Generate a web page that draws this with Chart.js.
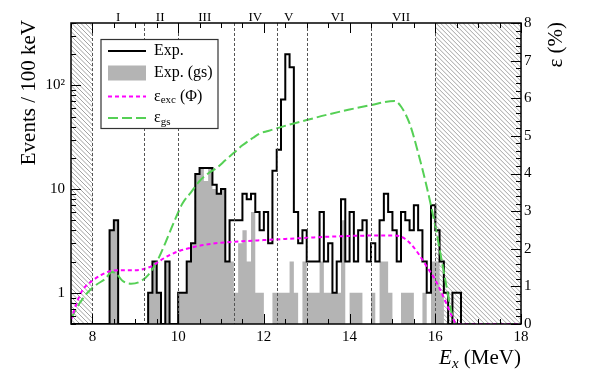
<!DOCTYPE html>
<html>
<head>
<meta charset="utf-8">
<script src="https://cdn.jsdelivr.net/npm/chart.js@4.4.1/dist/chart.umd.min.js"></script>
<style>
  html, body { margin: 0; padding: 0; background: #fff; }
</style>
</head>
<body>
<canvas id="chart" width="592" height="383"></canvas>
<script>
// ======================================================
// DATA
// ======================================================
const binStart = 7.5;   // MeV, low edge of first 100 keV bin
const binWidth = 0.1;

// Exp. (all events), 7.5 ... 16.6 MeV
const expCounts = [
  0, 0, 0, 0, 0, 0, 0, 0, 0, 0,
  4, 5,
  0, 0, 0, 0, 0, 0, 0,
  1, 2, 1, 0, 2, 0,
  0, 1, 1, 2, 3, 14, 16, 16, 16, 11,
  9, 10, 2, 5, 5, 5, 9, 8, 9, 6,
  4, 6, 3, 15, 24, 73, 200, 150, 6, 3,
  4, 2, 2, 2, 6, 2, 3, 1, 2, 8,
  2, 6, 2, 4, 5, 2, 3, 2, 5, 9,
  6, 4, 2, 6, 5, 4, 7, 4, 2, 1,
  7, 4, 2, 1, 0, 1
];

// Exp. (gs)
const gsCounts = [
  0, 0, 0, 0, 0, 0, 0, 0, 0, 0,
  4, 5,
  0, 0, 0, 0, 0, 0, 0,
  1, 2, 1, 0, 2, 0,
  0, 1, 1, 2, 3, 14, 16, 12, 16, 10,
  9, 10, 2, 2, 1, 3, 4, 2, 6, 1,
  1, 0, 0, 1, 1, 1, 1, 2, 1, 0,
  2, 1, 1, 1, 2, 1, 1, 1, 1, 5,
  0, 1, 1, 1, 0, 0, 1, 0, 2, 2,
  1, 0, 0, 1, 1, 1, 0, 0, 1, 0,
  2, 2, 1, 0, 0, 0
];

// efficiencies (%)
const effExcE = [7.5, 7.6, 7.7, 7.8, 8.0, 8.2, 8.4, 8.6, 9.0, 9.2, 9.4, 9.6, 9.8, 10.0, 10.3, 10.6,
  11.0, 11.5, 12.0, 12.5, 13.0, 13.5, 14.0, 14.5, 15.0, 15.15, 15.3, 15.45, 15.6, 15.8,
  16.0, 16.2, 16.4, 16.5, 17.0, 18.0];
const effExc = [0.1, 0.45, 0.75, 0.95, 1.15, 1.3, 1.4, 1.43, 1.43, 1.46, 1.55, 1.7, 1.83, 1.93, 2.03, 2.1,
  2.16, 2.2, 2.23, 2.26, 2.29, 2.32, 2.34, 2.35, 2.35, 2.34, 2.26, 2.1, 1.88, 1.53,
  1.17, 0.7, 0.18, 0, 0, 0];

const effGsE = [7.5, 7.7, 7.9, 8.1, 8.3, 8.45, 8.55, 8.7, 8.9, 9.1, 9.3, 9.5, 9.7, 9.9, 10.1, 10.3,
  10.5, 10.7, 10.9, 11.1, 11.3, 11.5, 11.75, 11.9, 12.1, 12.3, 12.6, 13.0, 13.5, 14.0, 14.5,
  15.05, 15.2, 15.4, 15.6, 15.8, 16.0, 16.2, 16.4, 16.5, 17.0, 18.0];
const effGs = [0.15, 0.55, 0.85, 1.05, 1.2, 1.38, 1.35, 1.15, 1.07, 1.12, 1.3, 1.65, 2.15, 2.7, 3.2, 3.5,
  3.8, 4.0, 4.15, 4.35, 4.55, 4.75, 4.95, 5.06, 5.13, 5.2, 5.3, 5.42, 5.57, 5.7, 5.82,
  5.93, 5.78, 5.33, 4.55, 3.65, 2.6, 1.38, 0.22, 0, 0, 0];

// regions
const regionEdges = [8.0, 9.2, 10.0, 11.3, 12.3, 13.0, 14.5, 16.0];
const regionNames = ["I", "II", "III", "IV", "V", "VI", "VII"];
const regionLabelE = [8.6, 9.58, 10.62, 11.8, 12.58, 13.72, 15.2];
const hatchRanges = [[7.5, 8.0], [16.0, 18.0]];

// axes
const xTicks = [8, 10, 12, 14, 16, 18];
const yTicks = [1, 10, 100];
const y2Ticks = [0, 1, 2, 3, 4, 5, 6, 7, 8];
const yMin = 0.5, yMax = 400;

const serif = '"Liberation Serif", "Times New Roman", Times, serif';
const GRAY = "#b4b4b4";
const MAGENTA = "#ff00ff";
const GREEN = "#55d055";


// ======================================================
// HELPERS
// ======================================================
function stepPoints(counts) {
  const pts = counts.map((c, i) => ({ x: binStart + i * binWidth, y: c > 0 ? c : yMin }));
  const hi = binStart + counts.length * binWidth;
  pts.push({ x: hi, y: pts[pts.length - 1].y });
  pts.push({ x: hi, y: yMin });
  return pts;
}

function curvePoints(xs, ys) {
  return xs.map((x, i) => ({ x, y: ys[i] }));
}

// text runs: [{t, size, dy, italic}]
function richWidth(ctx, parts) {
  let w = 0;
  parts.forEach(p => {
    ctx.font = `${p.italic ? "italic " : ""}${p.size}px ${serif}`;
    w += ctx.measureText(p.t).width;
  });
  return w;
}

function drawRich(ctx, parts, x, y) {
  parts.forEach(p => {
    ctx.font = `${p.italic ? "italic " : ""}${p.size}px ${serif}`;
    ctx.fillText(p.t, x, y + (p.dy || 0));
    x += ctx.measureText(p.t).width;
  });
}


// ======================================================
// PLUGIN — HATCH, REGIONS, FRAME, TICKS, LEGEND, TITLES
// ======================================================
const decorPlugin = {
  id: "decor",

  beforeDatasetsDraw(chart) {
    const { ctx, chartArea: a, scales: { x } } = chart;
    const h = a.bottom - a.top;

    hatchRanges.forEach(([lo, hi]) => {
      const x0 = x.getPixelForValue(lo);
      const x1 = x.getPixelForValue(hi);
      ctx.save();
      ctx.beginPath();
      ctx.rect(x0, a.top, x1 - x0, h);
      ctx.clip();
      ctx.strokeStyle = "#8a8a8a";
      ctx.lineWidth = 0.8;
      ctx.beginPath();
      for (let px = x0 - h; px < x1 + 1; px += 4.5) {
        ctx.moveTo(px, a.top);
        ctx.lineTo(px + h, a.bottom);
      }
      ctx.stroke();
      ctx.restore();
    });
  },

  afterDatasetsDraw(chart) {
    const { ctx, chartArea: a, scales: { x, y, y2 } } = chart;
    ctx.save();

    // region borders
    ctx.strokeStyle = "#555";
    ctx.lineWidth = 1;
    ctx.setLineDash([3, 2]);
    ctx.beginPath();
    regionEdges.forEach(e => {
      const px = Math.round(x.getPixelForValue(e)) + 0.5;
      ctx.moveTo(px, a.top);
      ctx.lineTo(px, a.bottom);
    });
    ctx.stroke();
    ctx.setLineDash([]);

    // frame
    ctx.strokeStyle = "#000";
    ctx.lineWidth = 1.5;
    ctx.strokeRect(a.left, a.top, a.right - a.left, a.bottom - a.top);

    // ticks (inside)
    ctx.lineWidth = 1;
    ctx.beginPath();
    for (let i = 0; i <= 21; i++) {
      const v = 7.5 + i * 0.5;
      const px = Math.round(x.getPixelForValue(v)) + 0.5;
      const len = (i % 4 === 1) ? 10 : 5;
      ctx.moveTo(px, a.bottom); ctx.lineTo(px, a.bottom - len);
      ctx.moveTo(px, a.top);    ctx.lineTo(px, a.top + len);
    }
    [0.1, 1, 10, 100].forEach(d => {
      for (let m = 1; m <= 9; m++) {
        const v = d * m;
        if (v < yMin - 1e-9 || v > yMax) continue;
        const py = Math.round(y.getPixelForValue(v)) + 0.5;
        const len = m === 1 ? 10 : 5;
        ctx.moveTo(a.left, py); ctx.lineTo(a.left + len, py);
      }
    });
    for (let i = 0; i <= 40; i++) {
      const py = Math.round(y2.getPixelForValue(i * 0.2)) + 0.5;
      const len = i % 5 === 0 ? 10 : 5;
      ctx.moveTo(a.right, py); ctx.lineTo(a.right - len, py);
    }
    ctx.stroke();

    // region names above the frame
    ctx.fillStyle = "#000";
    ctx.font = `13px ${serif}`;
    ctx.textAlign = "center";
    ctx.textBaseline = "alphabetic";
    regionNames.forEach((n, i) => {
      ctx.fillText(n, x.getPixelForValue(regionLabelE[i]), 20.5);
    });

    // legend
    const bx = 101, by = 39.5, bw = 117, bh = 89;
    ctx.fillStyle = "#fff";
    ctx.fillRect(bx, by, bw, bh);
    ctx.strokeStyle = "#333";
    ctx.lineWidth = 1.2;
    ctx.strokeRect(bx, by, bw, bh);

    const sx0 = 108, sx1 = 146, tx = 154;
    const rows = [51, 73, 96.5, 118];

    ctx.strokeStyle = "#000";
    ctx.lineWidth = 2;
    ctx.beginPath(); ctx.moveTo(sx0, rows[0]); ctx.lineTo(sx1, rows[0]); ctx.stroke();

    ctx.fillStyle = GRAY;
    ctx.fillRect(sx0, rows[1] - 7.5, sx1 - sx0, 15);

    ctx.strokeStyle = MAGENTA;
    ctx.setLineDash([4, 3]);
    ctx.beginPath(); ctx.moveTo(sx0, rows[2]); ctx.lineTo(sx1, rows[2]); ctx.stroke();

    ctx.strokeStyle = GREEN;
    ctx.setLineDash([10, 4]);
    ctx.beginPath(); ctx.moveTo(sx0, rows[3]); ctx.lineTo(sx1, rows[3]); ctx.stroke();
    ctx.setLineDash([]);

    ctx.fillStyle = "#000";
    ctx.textAlign = "left";
    ctx.textBaseline = "middle";
    drawRich(ctx, [{ t: "Exp.", size: 16 }], tx, rows[0]);
    drawRich(ctx, [{ t: "Exp. (gs)", size: 16 }], tx, rows[1]);
    drawRich(ctx, [{ t: "ε", size: 16 }, { t: "exc", size: 11, dy: 4 }, { t: " (Φ)", size: 16 }], tx, rows[2]);
    drawRich(ctx, [{ t: "ε", size: 16 }, { t: "gs", size: 11, dy: 4 }], tx, rows[3]);

    // axis titles
    ctx.textBaseline = "alphabetic";
    const xt = [{ t: "E", size: 21, italic: true }, { t: "x", size: 15, italic: true, dy: 4 }, { t: " (MeV)", size: 21 }];
    drawRich(ctx, xt, a.right - richWidth(ctx, xt), 364);

    ctx.font = `21px ${serif}`;
    ctx.textAlign = "right";
    ctx.save();
    ctx.translate(35, 20);
    ctx.rotate(-Math.PI / 2);
    ctx.fillText("Events / 100 keV", 0, 0);
    ctx.restore();

    ctx.save();
    ctx.translate(562, 22);
    ctx.rotate(-Math.PI / 2);
    ctx.fillText("ε (%)", 0, 0);
    ctx.restore();

    ctx.restore();
  }
};


// ======================================================
// CHART
// ======================================================
const tickFont = { family: serif, size: 15 };
const noGrid = { display: false, drawTicks: false };

new Chart(document.getElementById("chart"), {
  type: "line",
  data: {
    datasets: [
      {
        label: "εexc (Φ)",
        data: curvePoints(effExcE, effExc),
        yAxisID: "y2",
        borderColor: MAGENTA,
        borderWidth: 2,
        borderDash: [4, 3],
        pointRadius: 0,
        cubicInterpolationMode: "monotone",
        fill: false
      },
      {
        label: "εgs",
        data: curvePoints(effGsE, effGs),
        yAxisID: "y2",
        borderColor: GREEN,
        borderWidth: 2,
        borderDash: [10, 4],
        pointRadius: 0,
        cubicInterpolationMode: "monotone",
        fill: false
      },
      {
        label: "Exp.",
        data: stepPoints(expCounts),
        yAxisID: "y",
        borderColor: "#000",
        borderWidth: 2,
        pointRadius: 0,
        stepped: "after",
        fill: false
      },
      {
        label: "Exp. (gs)",
        data: stepPoints(gsCounts),
        yAxisID: "y",
        borderColor: GRAY,
        borderWidth: 0,
        backgroundColor: GRAY,
        pointRadius: 0,
        stepped: "after",
        fill: "start"
      }
    ]
  },
  options: {
    responsive: false,
    animation: false,
    events: [],
    layout: { padding: { top: 23, left: 0, right: 0, bottom: 0 } },
    plugins: {
      legend: { display: false },
      tooltip: { enabled: false }
    },
    scales: {
      x: {
        type: "linear",
        min: 7.5,
        max: 18,
        grid: noGrid,
        border: { display: false },
        afterBuildTicks: s => { s.ticks = xTicks.map(v => ({ value: v })); },
        afterFit: s => { s.height = 59; },
        ticks: { font: tickFont, color: "#000", padding: 4, maxRotation: 0, autoSkip: false }
      },
      y: {
        type: "logarithmic",
        position: "left",
        min: yMin,
        max: yMax,
        grid: noGrid,
        border: { display: false },
        afterBuildTicks: s => { s.ticks = yTicks.map(v => ({ value: v })); },
        afterFit: s => { s.width = 71; },
        ticks: {
          font: tickFont,
          color: "#000",
          padding: 6,
          autoSkip: false,
          callback: v => v === 100 ? "10²" : String(v)
        }
      },
      y2: {
        type: "linear",
        position: "right",
        min: 0,
        max: 8,
        grid: noGrid,
        border: { display: false },
        afterBuildTicks: s => { s.ticks = y2Ticks.map(v => ({ value: v })); },
        afterFit: s => { s.width = 71; },
        ticks: { font: tickFont, color: "#000", padding: 3, autoSkip: false }
      }
    }
  },
  plugins: [decorPlugin]
});
</script>
</body>
</html>
